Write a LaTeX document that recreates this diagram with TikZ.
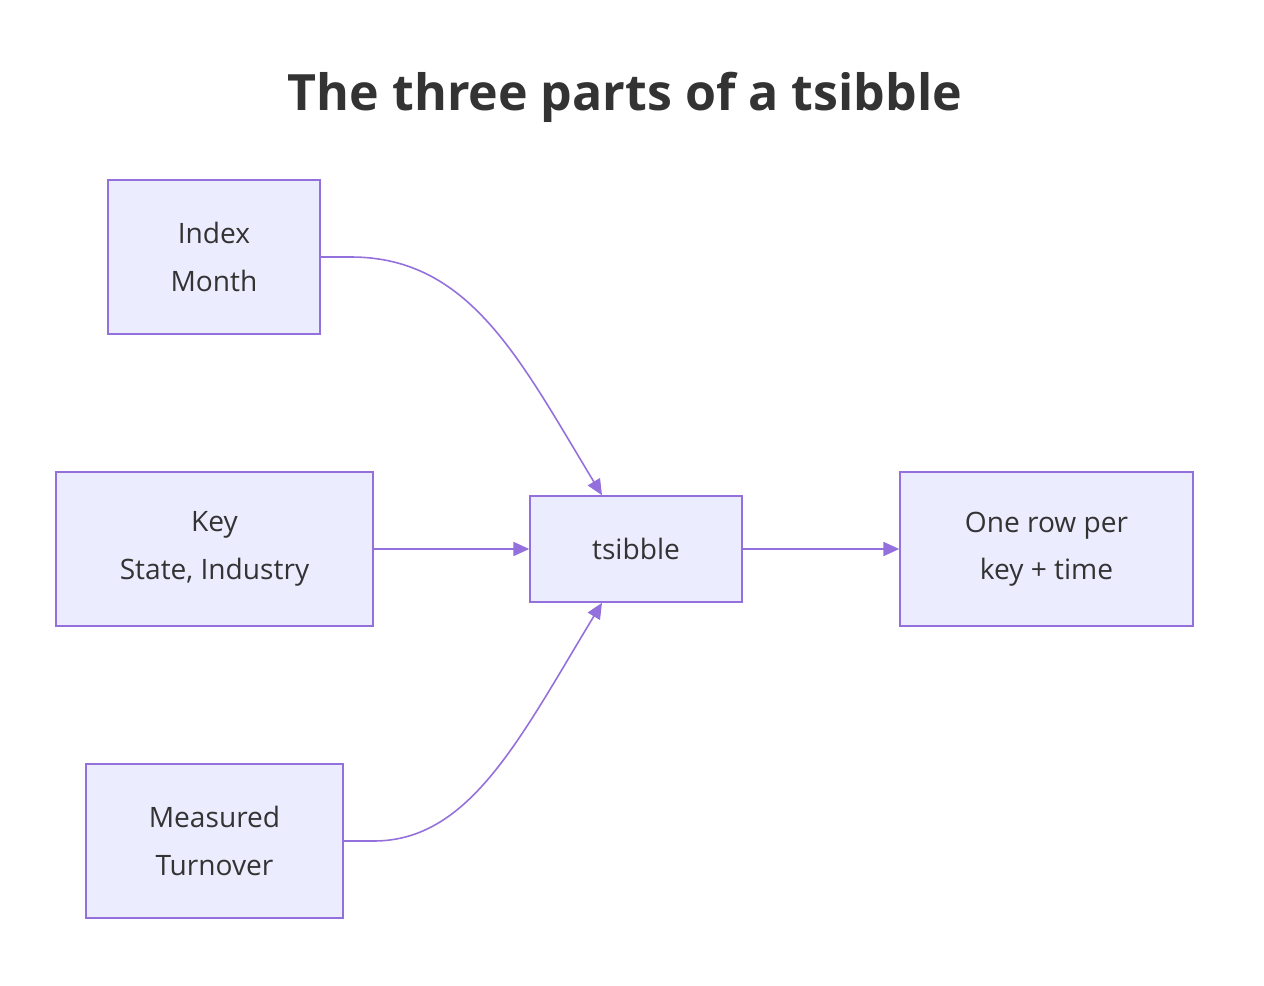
\documentclass[tikz,border=0pt]{standalone}
\usepackage{fontspec}
\setmainfont{Open Sans}
\usetikzlibrary{positioning,arrows.meta}
\definecolor{boxfill}{HTML}{ECECFF}
\definecolor{boxline}{HTML}{9370DB}
\definecolor{txt}{HTML}{333333}
\begin{document}
\begin{tikzpicture}[x=0.02cm,y=-0.02cm,
      part/.style={rectangle, draw=boxline, fill=boxfill, line width=0.9pt, align=center, text=txt, font=\fontsize{16}{27}\selectfont, inner sep=0pt},
      link/.style={draw=boxline, line width=0.9pt, -{Triangle[length=9pt,width=8pt]}},
      ]
      \useasboundingbox (0,0) rectangle (1264,986);
      \node[font=\fontsize{28.5}{32}\selectfont\bfseries, text=txt] (title) at (625,97) {The three parts of a tsibble};

      \node[part, minimum width=4.24cm, minimum height=3.08cm] (IX) at (214,257) {Index\\Month};
      \node[part, minimum width=6.34cm, minimum height=3.08cm] (KY) at (214.5,549) {Key\\State, Industry};
      \node[part, minimum width=5.14cm, minimum height=3.08cm] (MS) at (214.5,841) {Measured\\Turnover};
      \node[part, minimum width=4.24cm, minimum height=2.12cm] (TS) at (636,549) {tsibble};
      \node[part, minimum width=5.86cm, minimum height=3.08cm] (OR) at (1046.5,549) {One row per\\key + time};

      \draw[link] (IX.east) -- ++(30,0) .. controls (470,257) and (520,360) .. ([xshift=-0.68cm]TS.north);
      \draw[link] (KY.east) -- (TS.west);
      \draw[link] (MS.east) -- ++(30,0) .. controls (470,841) and (520,738) .. ([xshift=-0.68cm]TS.south);
      \draw[link] (TS.east) -- (OR.west);
\end{tikzpicture}
\end{document}
